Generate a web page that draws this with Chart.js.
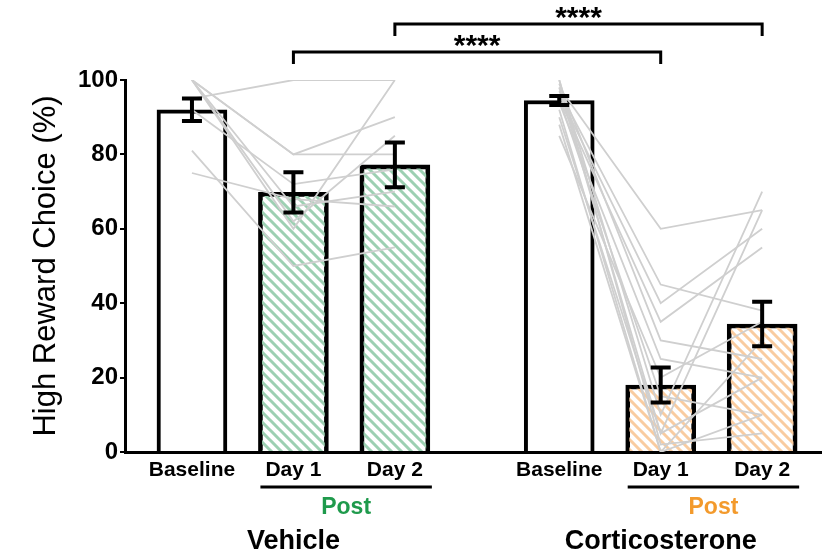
<!DOCTYPE html>
<html>
<head>
<meta charset="utf-8">
<script src="https://cdn.jsdelivr.net/npm/chart.js@4.4.1/dist/chart.umd.min.js"></script>
<style>
  html, body { margin: 0; padding: 0; background: #fff; }
  #wrap { width: 823px; height: 558px; }
</style>
</head>
<body>
<div id="wrap"><canvas id="choice-chart"></canvas></div>
<script>
// high reward choice per session, two treatment groups
const groups = ['Vehicle', 'Corticosterone'];
const sessions = ['Baseline', 'Day 1', 'Day 2'];
const yTicks = [0, 20, 40, 60, 80, 100];

const vehicleMean = [92, 69.8, 77.2];
const vehicleSem = [3, 5.4, 6];
const cortMean = [94.5, 18, 34.4];
const cortSem = [1.2, 4.7, 6];

// individual animals: baseline, day 1, day 2
const vehicleRats = [
  [95, 100, 100],
  [100, 60, 100],
  [100, 80, 90],
  [100, 80, 80],
  [100, 62, 85],
  [81, 50, 55],
  [75, 68, 66],
  [100, 66, 70],
  [92, 72, 76]
];
const cortRats = [
  [98, 60, 65],
  [97, 45, 38],
  [96, 40, 60],
  [95, 35, 55],
  [99, 30, 25],
  [94, 25, 20],
  [100, 10, 70],
  [98, 5, 65],
  [92, 0, 30],
  [95, 15, 10],
  [90, 5, 20],
  [88, 0, 10],
  [85, 20, 35],
  [100, 2, 5]
];

// significance: [group, session] pairs
const comparisons = [
  { a: [0, 1], b: [1, 1], text: '****' },
  { a: [0, 2], b: [1, 2], text: '****' }
];

const FONT = "'Liberation Sans', Arial, Helvetica, sans-serif";
const GROUP_STEP = 3.62;
const pos = (g, s) => g * GROUP_STEP + s;

function hatch(color) {
  const c = document.createElement('canvas');
  c.width = c.height = 10;
  const g = c.getContext('2d');
  g.strokeStyle = color;
  g.lineWidth = 3;
  g.beginPath();
  g.moveTo(-5, 5); g.lineTo(5, 15);
  g.moveTo(0, 0); g.lineTo(10, 10);
  g.moveTo(5, -5); g.lineTo(15, 5);
  g.stroke();
  return g.createPattern(c, 'repeat');
}

const green = hatch('#9dd0b2');
const orange = hatch('#f9cca0');

const means = [vehicleMean, cortMean];
const sems = [vehicleSem, cortSem];
const fills = [['#fff', green, green], ['#fff', orange, orange]];
const postColors = ['#1f9a4c', '#f39a2c'];

const barData = [], barFill = [], tickPos = [], tickText = [];
groups.forEach((g, gi) => {
  sessions.forEach((s, si) => {
    barData.push({ x: pos(gi, si), y: means[gi][si] });
    barFill.push(fills[gi][si]);
    tickPos.push(pos(gi, si));
    tickText.push(s);
  });
});

const ratLines = [];
[vehicleRats, cortRats].forEach((rats, gi) => {
  rats.forEach(r => {
    ratLines.push({
      type: 'line',
      data: r.map((v, si) => ({ x: pos(gi, si), y: v })),
      borderColor: '#cfcfcf',
      borderWidth: 1.8,
      pointRadius: 0,
      fill: false,
      order: 1
    });
  });
});

const extras = {
  id: 'extras',
  afterDatasetsDraw(chart) {
    const { ctx, scales: { x, y } } = chart;
    ctx.save();
    ctx.strokeStyle = '#000';
    ctx.lineWidth = 4;
    groups.forEach((g, gi) => {
      sessions.forEach((s, si) => {
        const px = x.getPixelForValue(pos(gi, si));
        const hi = y.getPixelForValue(means[gi][si] + sems[gi][si]);
        const lo = y.getPixelForValue(means[gi][si] - sems[gi][si]);
        ctx.beginPath();
        ctx.moveTo(px, hi); ctx.lineTo(px, lo);
        ctx.moveTo(px - 10, hi); ctx.lineTo(px + 10, hi);
        ctx.moveTo(px - 10, lo); ctx.lineTo(px + 10, lo);
        ctx.stroke();
      });
    });
    ctx.restore();
  },
  afterDraw(chart) {
    const { ctx, chartArea, scales: { x } } = chart;
    ctx.save();
    ctx.textAlign = 'center';
    ctx.textBaseline = 'middle';
    ctx.strokeStyle = '#000';
    ctx.lineWidth = 3;

    groups.forEach((g, gi) => {
      const d1 = x.getPixelForValue(pos(gi, 1));
      const d2 = x.getPixelForValue(pos(gi, 2));
      const l = d1 - 33, r = d2 + 37;
      ctx.beginPath();
      ctx.moveTo(l, chartArea.bottom + 35);
      ctx.lineTo(r, chartArea.bottom + 35);
      ctx.stroke();
      ctx.fillStyle = postColors[gi];
      ctx.font = 'bold 23px ' + FONT;
      ctx.fillText('Post', (l + r) / 2, chartArea.bottom + 56);
      ctx.fillStyle = '#000';
      ctx.font = 'bold 27px ' + FONT;
      ctx.fillText(g, d1, chartArea.bottom + 90);
    });

    // significance brackets
    comparisons.forEach((c, i) => {
      const xa = x.getPixelForValue(pos(c.a[0], c.a[1]));
      const xb = x.getPixelForValue(pos(c.b[0], c.b[1]));
      const top = chartArea.top - 28 - i * 28;
      ctx.beginPath();
      ctx.moveTo(xa, top + 12);
      ctx.lineTo(xa, top);
      ctx.lineTo(xb, top);
      ctx.lineTo(xb, top + 12);
      ctx.stroke();
      ctx.font = 'bold 30px ' + FONT;
      ctx.fillText(c.text, (xa + xb) / 2, top - 5);
    });
    ctx.restore();
  }
};

new Chart(document.getElementById('choice-chart'), {
  type: 'bar',
  data: {
    datasets: [
      ...ratLines,
      {
        type: 'bar',
        data: barData,
        backgroundColor: barFill,
        borderColor: '#000',
        borderWidth: 4,
        barThickness: 70,
        order: 2
      }
    ]
  },
  options: {
    responsive: true,
    maintainAspectRatio: false,
    animation: false,
    layout: { padding: { top: 80, right: 2, left: 0, bottom: 0 } },
    plugins: { legend: { display: false }, tooltip: { enabled: false } },
    scales: {
      x: {
        type: 'linear',
        offset: false,
        min: -0.66,
        max: 6.2,
        grid: { display: false, drawTicks: false },
        border: { display: true, color: '#000', width: 3 },
        afterBuildTicks: s => { s.ticks = tickPos.map(v => ({ value: v })); },
        afterFit: s => { s.height = 106; },
        ticks: {
          autoSkip: false,
          maxRotation: 0,
          padding: 6,
          color: '#000',
          font: { family: FONT, size: 21, weight: 'bold' },
          callback: (v, i) => tickText[i]
        }
      },
      y: {
        min: 0,
        max: 100,
        afterBuildTicks: s => { s.ticks = yTicks.map(v => ({ value: v })); },
        afterFit: s => { s.width = 125; },
        grid: { display: true, drawOnChartArea: false, drawTicks: true, tickLength: 5, color: '#000', lineWidth: 2 },
        border: { display: true, color: '#000', width: 3 },
        ticks: {
          padding: 2,
          color: '#000',
          font: { family: FONT, size: 24, weight: 'bold' }
        },
        title: {
          display: true,
          text: 'High Reward Choice (%)',
          color: '#000',
          padding: { top: 28, bottom: 0 },
          font: { family: FONT, size: 31 }
        }
      }
    }
  },
  plugins: [extras]
});
</script>
</body>
</html>
